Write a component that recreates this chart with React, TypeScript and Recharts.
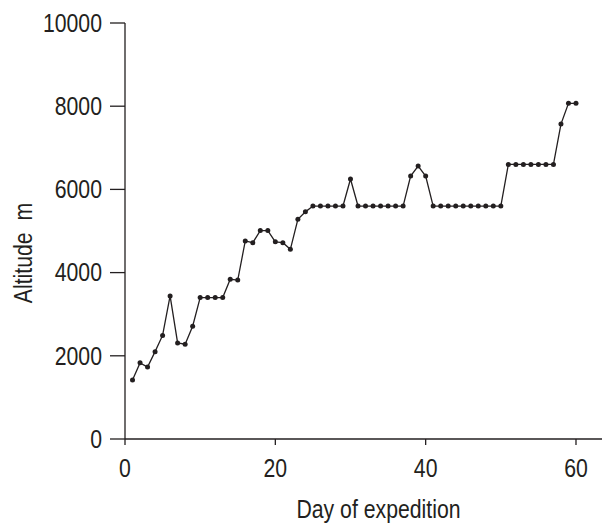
import { LineChart, Line, XAxis, YAxis } from "recharts"

const days = [
  1, 2, 3, 4, 5, 6, 7, 8, 9, 10, 11, 12, 13, 14, 15, 16, 17, 18, 19, 20,
  21, 22, 23, 24, 25, 26, 27, 28, 29, 30, 31, 32, 33, 34, 35, 36, 37, 38, 39, 40,
  41, 42, 43, 44, 45, 46, 47, 48, 49, 50, 51, 52, 53, 54, 55, 56, 57, 58, 59, 60,
]

const altitude = [
  1420, 1830, 1730, 2100, 2490, 3440, 2310, 2280, 2710, 3400,
  3400, 3400, 3400, 3840, 3820, 4760, 4720, 5010, 5010, 4740,
  4720, 4560, 5280, 5460, 5600, 5600, 5600, 5600, 5600, 6250,
  5600, 5600, 5600, 5600, 5600, 5600, 5600, 6320, 6560, 6320,
  5600, 5600, 5600, 5600, 5600, 5600, 5600, 5600, 5600, 5600,
  6600, 6600, 6600, 6600, 6600, 6600, 6600, 7570, 8070, 8070,
]

const xTicks = [0, 20, 40, 60]
const yTicks = [0, 2000, 4000, 6000, 8000, 10000]

const data = days.map((day, i) => ({ day, altitude: altitude[i] }))

const ink = "#231f20"
const font = "'Liberation Sans', Arial, Helvetica, sans-serif"
const narrow = 0.85
const size = 25

// helvetica condensed isn't installed, so squeeze the regular face
function NarrowText({ x, y, anchor, dy, children, rotate }: any) {
  const t = rotate
    ? `translate(${x},${y}) rotate(-90) scale(${narrow},1)`
    : `translate(${x},${y}) scale(${narrow},1)`
  return (
    <text
      transform={t}
      textAnchor={anchor}
      dy={dy}
      fontSize={size}
      fontFamily={font}
      fill={ink}
    >
      {children}
    </text>
  )
}

function XTick(props: any) {
  return (
    <NarrowText x={props.x} y={props.y} anchor="middle" dy="0.71em">
      {props.payload.value}
    </NarrowText>
  )
}

function YTick(props: any) {
  return (
    <NarrowText x={props.x} y={props.y} anchor="end" dy="0.355em">
      {props.payload.value}
    </NarrowText>
  )
}

function XLabel(props: any) {
  const vb = props.viewBox
  return (
    <NarrowText x={vb.x + vb.width / 2 + 15} y={vb.y + vb.height - 5} anchor="middle">
      Day of expedition
    </NarrowText>
  )
}

function YLabel(props: any) {
  const vb = props.viewBox
  return (
    <NarrowText x={vb.x + 23} y={vb.y + vb.height / 2 + 22} anchor="middle" dy="0.35em" rotate>
      {"Altitude\u00a0 m"}
    </NarrowText>
  )
}

export default function App() {
  return (
    <div style={{ position: "absolute", left: 0, top: 0, background: "#fff" }}>
      <LineChart
        width={603}
        height={523}
        data={data}
        margin={{ top: 23, right: 1, bottom: 0, left: 0 }}
      >
        <XAxis
          type="number"
          dataKey="day"
          domain={[0, 63.46]}
          ticks={xTicks}
          allowDataOverflow
          height={84}
          tickSize={6}
          tickMargin={14}
          axisLine={{ stroke: ink, strokeWidth: 1.3 }}
          tickLine={{ stroke: ink, strokeWidth: 1.3 }}
          tick={<XTick />}
          label={<XLabel />}
        />
        <YAxis
          type="number"
          domain={[0, 10000]}
          ticks={yTicks}
          width={125}
          tickSize={15}
          tickMargin={8}
          axisLine={{ stroke: ink, strokeWidth: 1.3 }}
          tickLine={{ stroke: ink, strokeWidth: 1.3 }}
          tick={<YTick />}
          label={<YLabel />}
        />
        <Line
          type="linear"
          dataKey="altitude"
          stroke={ink}
          strokeWidth={1.3}
          dot={{ r: 2.5, fill: ink, stroke: "none" }}
          activeDot={false}
          isAnimationActive={false}
        />
      </LineChart>
    </div>
  )
}
